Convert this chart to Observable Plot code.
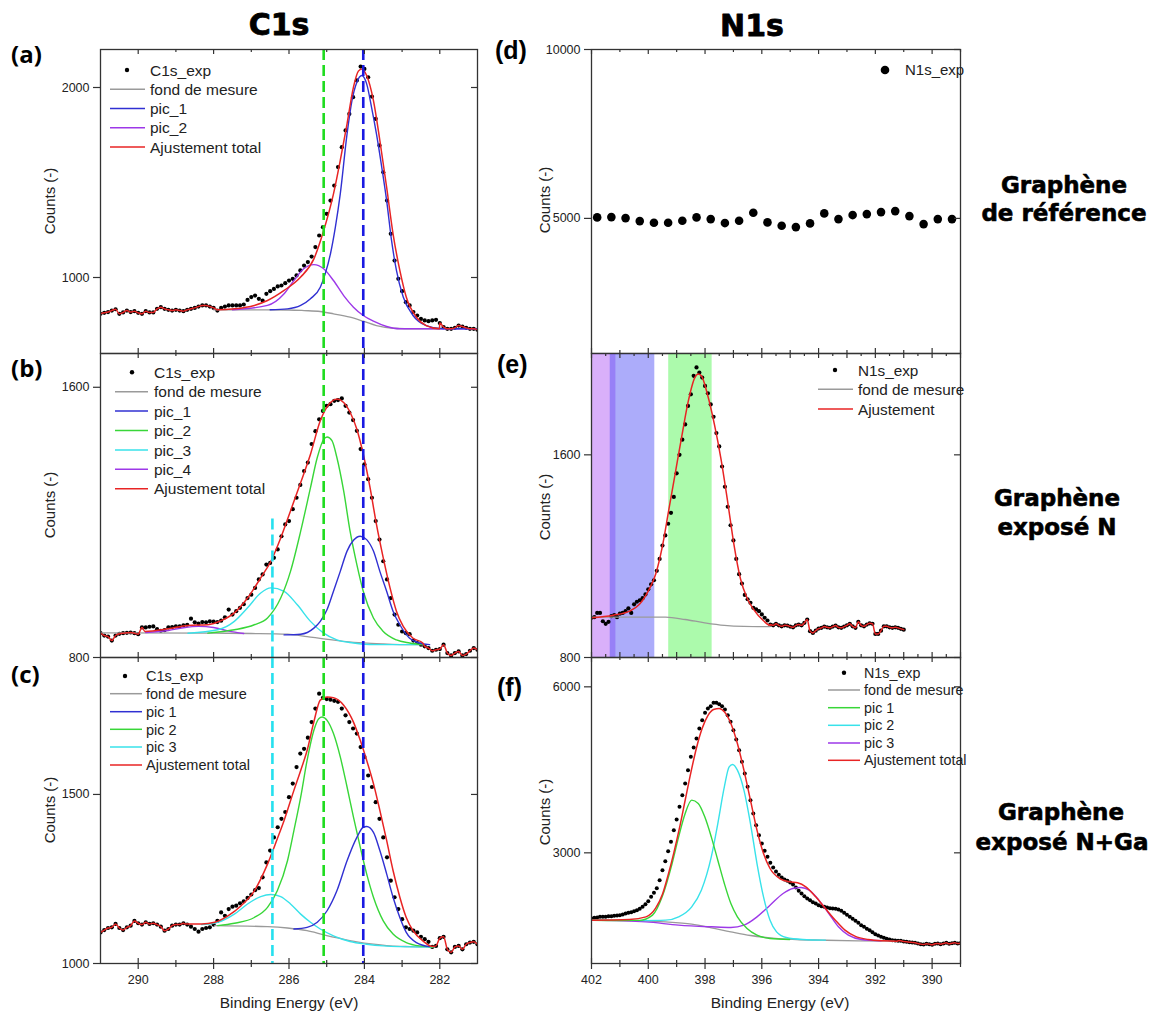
<!DOCTYPE html>
<html><head><meta charset="utf-8">
<script src="https://cdn.jsdelivr.net/npm/d3@7"></script>
<script src="https://cdn.jsdelivr.net/npm/@observablehq/plot@0.6"></script>
<style>
body{margin:0;background:#fff;}
#root{position:relative;width:1161px;height:1015px;overflow:hidden;background:#fff;font-family:"Liberation Sans",Arial,sans-serif;}
</style></head><body><div id="root"></div>
<script>
// ---------------- DATA ----------------
// C1s energy grids (eV) for experimental points
const c1sStart = 291.0, c1sStep = 0.1, c1sN = 101;
const n1sStart = 402.0, n1sStep = 0.1;
const dStart = 401.8, dStep = 0.5;

// (a) Graphène de référence, C1s
const aExp = [809,814,818,826,833,809,816,826,818,823,
 814,809,823,816,816,835,844,835,830,826,
 830,826,823,830,835,840,847,853,853,847,
 840,826,840,847,853,853,853,853,858,882,
 897,905,888,879,914,928,940,953,958,970,
 984,993,1011,1037,1063,1081,1110,1160,1221,1265,
 1335,1405,1484,1581,1686,1774,1861,1949,2037,2110,
 2098,2054,1952,1835,1695,1554,1405,1230,1089,993,
 928,870,853,818,800,782,774,770,774,777,
 760,739,730,730,735,747,742,735,730,730,
 725];
const aBgE = [288.0, 287.0, 286.0, 285.6, 285.17, 284.82, 284.38, 284.03, 283.68, 283.24, 282.62, 282.0];
const aBg  = [830, 830, 829, 826, 821, 809, 791, 770, 747, 733, 730, 730];
const aPic1E = [286.5, 286.04, 285.69, 285.43, 285.17, 285.04, 284.9, 284.77, 284.64, 284.46, 284.33, 284.2, 284.07, 283.94, 283.81, 283.68, 283.54, 283.41, 283.28, 283.15, 282.97, 282.71, 282.36, 281.92, 281.0];
const aPic1  = [830, 835, 853, 888, 949, 1019, 1125, 1265, 1440, 1756, 1931, 2028, 2063, 2019, 1896, 1756, 1581, 1405, 1195, 1037, 897, 800, 747, 730, 730];
const aPic2E = [287.5, 286.57, 286.13, 285.87, 285.61, 285.34, 285.08, 284.82, 284.55, 284.29, 284.03, 283.76, 283.41, 283.06, 281.0];
const aPic2  = [830, 853, 914, 984, 1046, 1068, 1046, 984, 905, 844, 800, 770, 742, 730, 730];
const aFitE = [287.9, 287.45, 286.92, 286.57, 286.13, 285.69, 285.34, 285.08, 284.82, 284.64, 284.46, 284.29, 284.16, 284.07, 283.94, 283.76, 283.59, 283.41, 283.24, 283.06, 282.89, 282.62, 282.36, 282.01];
const aFit  = [830, 835, 853, 879, 932, 1002, 1098, 1247, 1440, 1616, 1809, 2002, 2086, 2098, 2063, 1931, 1721, 1475, 1230, 1037, 897, 791, 747, 730];

// (b) Graphène exposé N, C1s
const bExp = [872,865,862,850,865,870,872,873,874,872,
 869,889,889,891,892,884,879,881,889,890,
 892,892,895,897,915,904,900,905,904,907,
 906,905,909,919,942,927,937,947,958,976,
 986,1006,1031,1046,1075,1080,1095,1120,1159,1194,
 1204,1239,1273,1311,1352,1377,1432,1470,1505,1530,
 1545,1550,1560,1562,1567,1545,1525,1503,1471,1417,
 1372,1328,1273,1204,1149,1085,1031,976,927,897,
 877,872,869,850,843,838,833,828,820,823,
 825,838,813,806,813,818,806,810,820,828,
 823];
const bBgE = [291.0, 288.0, 287.0, 286.04, 285.52, 285.08, 284.55, 284.03, 283.5, 282.97, 282.36];
const bBg  = [873, 872, 871, 869, 862, 855, 848, 843, 840, 838, 838];
const bPic1E = [286.13, 285.69, 285.34, 285.17, 284.99, 284.82, 284.64, 284.46, 284.29, 284.11, 283.94, 283.76, 283.59, 283.41, 283.24, 283.06, 282.80, 282.54, 282.27];
const bPic1  = [867, 869, 887, 907, 942, 996, 1055, 1115, 1147, 1159, 1149, 1115, 1055, 996, 937, 897, 857, 843, 838];
const bPic2E = [288.15, 287.45, 286.92, 286.57, 286.22, 285.96, 285.69, 285.43, 285.25, 285.08, 284.99, 284.86, 284.73, 284.55, 284.38, 284.20, 284.03, 283.76, 283.50, 283.15, 282.80, 282.45];
const bPic2  = [872, 882, 897, 917, 976, 1055, 1174, 1303, 1392, 1446, 1453, 1442, 1392, 1293, 1174, 1075, 996, 917, 877, 852, 843, 838];
const bPic3E = [288.68, 287.89, 287.45, 287.10, 286.75, 286.48, 286.13, 285.78, 285.43, 285.08, 284.73, 284.29, 283.76, 283.06, 282.54];
const bPic3  = [872, 882, 907, 947, 991, 1006, 996, 956, 907, 872, 852, 843, 838, 838, 838];
const bPic4E = [289.8, 289.2, 288.8, 288.4, 288.0, 287.6, 287.2];
const bPic4  = [874, 880, 888, 892, 889, 878, 871];
const bFitE = [289.82, 289.2, 288.68, 288.15, 287.8, 287.45, 287.1, 286.75, 286.48, 286.22, 285.96, 285.69, 285.43, 285.17, 284.9, 284.73, 284.55, 284.38, 284.2, 284.03, 283.85, 283.68, 283.5, 283.32, 283.15, 282.97, 282.71, 282.45];
const bFit  = [877, 885, 895, 897, 909, 932, 976, 1036, 1085, 1154, 1234, 1318, 1402, 1501, 1555, 1565, 1555, 1526, 1476, 1402, 1303, 1194, 1095, 1006, 937, 892, 857, 843];

// (c) Graphène exposé N+Ga, C1s
const cExp = [1092,1099,1105,1107,1117,1105,1099,1107,1112,1126,
 1119,1115,1122,1117,1119,1115,1109,1097,1102,1112,
 1115,1115,1119,1115,1109,1102,1094,1102,1105,1107,
 1115,1126,1151,1141,1161,1168,1171,1178,1184,1194,
 1204,1217,1223,1255,1299,1334,1373,1403,1428,1448,
 1492,1532,1581,1621,1635,1668,1714,1754,1798,1786,
 1782,1780,1777,1774,1754,1734,1714,1695,1680,1640,
 1611,1556,1522,1477,1428,1373,1314,1245,1196,1161,
 1131,1107,1102,1097,1092,1079,1072,1064,1049,1052,
 1075,1079,1042,1033,1049,1052,1042,1057,1062,1064,
 1057];
const cBgE = [287.97, 286.57, 286.04, 285.52, 285.08, 284.64, 284.20, 283.76, 283.32, 282.80, 282.18];
const cBg  = [1112, 1109, 1105, 1097, 1085, 1074, 1064, 1057, 1052, 1050, 1049];
const cPic1E = [285.87, 285.52, 285.25, 284.99, 284.73, 284.46, 284.20, 284.03, 283.94, 283.76, 283.59, 283.41, 283.24, 283.06, 282.89, 282.62, 282.27];
const cPic1  = [1102, 1107, 1122, 1156, 1215, 1304, 1373, 1403, 1405, 1388, 1334, 1265, 1196, 1136, 1092, 1062, 1050];
const cPic2E = [287.89, 287.45, 286.92, 286.57, 286.31, 286.04, 285.87, 285.69, 285.52, 285.34, 285.21, 285.12, 284.99, 284.82, 284.64, 284.46, 284.29, 284.11, 283.94, 283.76, 283.50, 283.24, 282.89, 282.54, 282.18];
const cPic2  = [1112, 1119, 1136, 1166, 1215, 1304, 1393, 1492, 1601, 1690, 1724, 1729, 1719, 1680, 1611, 1522, 1433, 1344, 1265, 1196, 1126, 1087, 1062, 1052, 1049];
const cPic3E = [288.32, 287.89, 287.45, 287.10, 286.75, 286.48, 286.22, 285.96, 285.69, 285.43, 285.17, 284.82, 284.38, 283.94, 283.50, 283.06, 282.18];
const cPic3  = [1115, 1122, 1146, 1176, 1198, 1204, 1198, 1176, 1146, 1122, 1102, 1082, 1065, 1057, 1052, 1050, 1049];
const cFitE = [288.76, 288.32, 287.97, 287.62, 287.27, 286.92, 286.57, 286.31, 286.13, 285.87, 285.69, 285.52, 285.34, 285.17, 284.99, 284.82, 284.55, 284.29, 284.11, 283.94, 283.76, 283.59, 283.41, 283.24, 283.06, 282.89, 282.71, 282.45, 282.18];
const cFit  = [1117, 1117, 1122, 1141, 1171, 1215, 1294, 1369, 1423, 1512, 1571, 1630, 1715, 1779, 1788, 1786, 1764, 1714, 1660, 1601, 1532, 1453, 1364, 1275, 1196, 1136, 1097, 1067, 1050];

// C1s reference peak positions (eV)
const c1sGreenLine = 285.08, c1sBlueLine = 284.03, c1sCyanLine = 286.44, c1sCyanTopB = 1210;

// (d) Graphène de référence, N1s
const dExp = [5030,5038,5009,4920,4870,4870,4929,5030,4979,4861,4929,5166,4881,4781,4742,4852,5148,4979,5098,5127,5186,5216,5068,4831,4979,4979];

// (e) Graphène exposé N, N1s
const eExp = [957,959,976,976,943,933,941,963,967,959,
 973,976,983,994,976,1010,1020,1026,1034,1049,
 1069,1089,1105,1142,1189,1242,1282,1328,1371,1434,
 1527,1600,1660,1720,1793,1839,1912,1945,1925,1905,
 1872,1843,1799,1750,1686,1633,1554,1474,1395,1322,
 1262,1189,1129,1092,1047,1030,1016,996,990,983,
 970,957,946,930,927,933,927,923,927,926,
 922,919,927,930,927,937,950,904,897,906,
 914,917,922,919,917,922,926,919,917,922,
 927,933,923,917,941,927,923,930,935,933,
 893,893,906,923,923,919,917,919,917,913,
 910];
const eBgE = [402.0, 400.66, 399.39, 398.70, 398.01, 397.32, 396.63, 395.71];
const eBg  = [959, 959, 959, 950, 937, 927, 923, 922];
const eFitE = [402.0, 401.23, 400.66, 400.31, 399.97, 399.74, 399.51, 399.28, 399.05, 398.82, 398.59, 398.36, 398.24, 398.13, 397.90, 397.67, 397.44, 397.21, 396.98, 396.75, 396.52, 396.29, 395.94, 395.71];
const eFit  = [957, 967, 983, 1010, 1069, 1129, 1235, 1381, 1527, 1673, 1812, 1905, 1919, 1912, 1832, 1720, 1585, 1420, 1245, 1110, 1035, 990, 945, 927];
const eBands = [
  {x1: 402.0, x2: 401.14, color: "rgb(170,80,245)"},
  {x1: 401.34, x2: 399.77, color: "rgb(70,70,245)"},
  {x1: 399.28, x2: 397.75, color: "rgb(70,245,70)"}
];

// (f) Graphène exposé N+Ga, N1s
const fExp = [1813,1825,1831,1843,1843,1843,1855,1855,1861,1867,
 1874,1886,1904,1916,1928,1946,1964,1988,2024,2072,
 2127,2205,2277,2361,2506,2687,2849,3030,3199,3410,
 3602,3831,4042,4253,4494,4735,4904,5066,5247,5398,
 5530,5608,5651,5711,5711,5687,5651,5590,5488,5367,
 5217,5048,4855,4645,4434,4193,3952,3711,3500,3319,
 3169,3036,2928,2819,2735,2663,2602,2554,2518,2494,
 2464,2428,2373,2313,2265,2217,2175,2145,2108,2084,
 2054,2036,2024,2012,2000,1994,1988,1976,1952,1916,
 1880,1843,1807,1771,1735,1693,1663,1627,1602,1566,
 1530,1506,1482,1464,1446,1434,1422,1416,1410,1410,
 1398,1392,1386,1380,1374,1362,1350,1344,1356,1350,
 1338,1356,1362,1350,1362,1374,1356,1368,1374,1362,
 1368];
const fBgE = [402.0, 400.08, 399.39, 398.47, 397.78, 397.09, 396.40, 395.71, 394.79, 393.87, 392.61, 391.34];
const fBg  = [1783, 1771, 1753, 1711, 1645, 1572, 1506, 1464, 1434, 1422, 1410, 1404];
const fPic1E = [402.0, 401.0, 400.31, 399.85, 399.51, 399.16, 398.93, 398.70, 398.47, 398.24, 398.01, 397.78, 397.55, 397.32, 397.09, 396.86, 396.52, 396.17, 395.71, 395.02];
const fPic1  = [1783, 1778, 1780, 1874, 2205, 2807, 3289, 3711, 3952, 3892, 3651, 3289, 2867, 2446, 2084, 1843, 1633, 1512, 1452, 1434];
const fPic2E = [400.3, 399.39, 398.93, 398.47, 398.13, 397.78, 397.55, 397.32, 397.15, 397.03, 396.86, 396.63, 396.40, 396.17, 395.94, 395.71, 395.48, 395.14, 394.56, 393.76];
const fPic2  = [1775, 1783, 1843, 2024, 2325, 2928, 3530, 4193, 4554, 4596, 4494, 4133, 3530, 2807, 2205, 1783, 1572, 1470, 1434, 1422];
const fPic3E = [402.0, 400.08, 398.93, 397.78, 397.09, 396.63, 396.17, 395.71, 395.25, 394.91, 394.62, 394.33, 393.99, 393.64, 393.30, 392.95, 392.49, 391.80];
const fPic3  = [1783, 1753, 1693, 1663, 1651, 1693, 1843, 2054, 2265, 2355, 2373, 2325, 2145, 1904, 1663, 1512, 1434, 1410];
const fFitE = [402.0, 400.66, 400.08, 399.74, 399.5, 399.3, 399.1, 398.9, 398.7, 398.5, 398.3, 398.1, 397.9, 397.7, 397.5, 397.32, 397.09, 396.86, 396.63, 396.40, 396.17, 395.94, 395.71, 395.37, 395.02, 394.74, 394.45, 394.10, 393.76, 393.41, 393.07, 392.72, 392.26, 391.69, 391.23];
const fFit  = [1783, 1795, 1843, 2000, 2250, 2600, 3000, 3450, 3950, 4450, 4900, 5250, 5480, 5590, 5610, 5548, 5337, 4976, 4494, 3952, 3410, 2988, 2717, 2536, 2476, 2458, 2386, 2205, 1994, 1783, 1602, 1494, 1434, 1410, 1404];

// Axis tick values
const c1sMajor = [290, 288, 286, 284, 282], c1sMinor = [289, 287, 285, 283];
const n1sMajor = [402, 400, 398, 396, 394, 392, 390], n1sMinor = [401, 399, 397, 395, 393, 391, 389];
const n1sMajorE = [402, 401, 400, 399, 398, 397, 396, 395, 394, 393, 392, 391, 390, 389];
const n1sMinorE = [401.5, 400.5, 399.5, 398.5, 397.5, 396.5, 395.5, 394.5, 393.5, 392.5, 391.5, 390.5, 389.5];

// ---------------- HELPERS ----------------
const FONT = '"Liberation Sans", Arial, sans-serif';
const COL = {exp: "#000", bg: "#9a9a9a", blue: "#3030d2", purple: "#9d38e8", green: "#38d638", cyan: "#38e2ea", red: "#e82424"};
const DASH = {green: "#1fdc1f", blue: "#1a1ae2", cyan: "#26e0ef"};
const root = document.getElementById("root");

const grid = (start, step, n) => d3.range(n).map(i => +(start - i * step).toFixed(2));
const pts = (E, V) => E.map((e, i) => ({E: e, v: V[i]}));
function total(expPts, fitPts) {
  const hi = fitPts[0].E, lo = fitPts[fitPts.length - 1].E;
  return [...expPts.filter(p => p.E > hi + 1e-6), ...fitPts, ...expPts.filter(p => p.E < lo - 1e-6)];
}
const line = (data, color, w = 1.4) => Plot.line(data, {x: "E", y: "v", stroke: color, strokeWidth: w, curve: "monotone-x", clip: true});
const dots = (data, r = 2.1) => Plot.dot(data, {x: "E", y: "v", r, fill: COL.exp, stroke: null, clip: true});
const vdash = (E, color, extra = {}) => Plot.ruleX([E], {x: d => d, stroke: color, strokeWidth: 2.6, strokeDasharray: "11,5", ...extra});

function makePanel(cfg) {
  const mT = 20, mB = 40;
  const fh = cfg.fh, fw = cfg.width - cfg.mL - cfg.mR;
  const tk = {stroke: "#333", strokeWidth: 1.2};
  const marks = [...cfg.marks, Plot.frame({stroke: "#333", strokeWidth: 1.3})];
  const xt = (vals, len) => [
    Plot.ruleX(vals, {x: d => d, insetBottom: fh - len, ...tk}),
    Plot.ruleX(vals, {x: d => d, insetTop: fh - len, insetBottom: cfg.bottom ? -len - 1 : 0, ...tk})
  ];
  marks.push(...xt(cfg.xMaj, 5), ...xt(cfg.xMin, 3));
  marks.push(Plot.ruleY(cfg.yTicks, {y: d => d, insetLeft: -7, insetRight: fw, ...tk}));
  marks.push(Plot.ruleY(cfg.yTicks, {y: d => d, insetLeft: fw - 6, ...tk}));
  marks.push(Plot.axisY(cfg.yTicks, {anchor: "left", tickSize: 0, tickPadding: 11, label: null, tickFormat: d => String(d), fontSize: 12.5, fill: "#222"}));
  if (cfg.bottom) marks.push(Plot.axisX(cfg.xLabels || cfg.xMaj, {anchor: "bottom", tickSize: 0, tickPadding: 12, label: null, tickFormat: d => String(d), fontSize: 12.5, fill: "#222"}));
  const svg = Plot.plot({
    width: cfg.width, height: fh + mT + mB,
    marginLeft: cfg.mL, marginRight: cfg.mR, marginTop: mT, marginBottom: mB,
    x: {domain: cfg.xDomain, ...(cfg.bottom ? {} : {axis: null})},
    y: {domain: cfg.yDomain},
    style: {background: "none", overflow: "visible", fontFamily: FONT, fontSize: "12.5px", color: "#222"},
    marks
  });
  const div = document.createElement("div");
  div.style.cssText = `position:absolute;left:${cfg.left}px;top:${cfg.frameTop - mT}px;width:${cfg.width}px;`;
  div.appendChild(svg);
  root.appendChild(div);
}

// ---------------- PANELS ----------------
const c1sE = grid(c1sStart, c1sStep, c1sN);
const L = {left: 0, width: 490, mL: 100, mR: 13, xDomain: [291, 281], xMaj: c1sMajor, xMin: c1sMinor};
const R = {left: 480, width: 500, mL: 111, mR: 20, xDomain: [402, 389]};

// (a)
{
  const exp = pts(c1sE, aExp);
  makePanel({...L, frameTop: 49, fh: 304, yDomain: [600, 2200], yTicks: [1000, 2000], marks: [
    dots(exp),
    line(pts(aBgE, aBg), COL.bg, 1.3),
    line(pts(aPic2E, aPic2), COL.purple),
    line(pts(aPic1E, aPic1), COL.blue),
    line(total(exp, pts(aFitE, aFit)), COL.red, 1.5),
    vdash(c1sGreenLine, DASH.green), vdash(c1sBlueLine, DASH.blue)
  ]});
}
// (b)
{
  const exp = pts(c1sE, bExp);
  makePanel({...L, frameTop: 353, fh: 304, yDomain: [800, 1700], yTicks: [800, 1600], marks: [
    dots(exp),
    line(pts(bBgE, bBg), COL.bg, 1.3),
    line(pts(bPic4E, bPic4), COL.purple),
    line(pts(bPic3E, bPic3), COL.cyan),
    line(pts(bPic2E, bPic2), COL.green),
    line(pts(bPic1E, bPic1), COL.blue),
    line(total(exp, pts(bFitE, bFit)), COL.red, 1.5),
    vdash(c1sGreenLine, DASH.green), vdash(c1sBlueLine, DASH.blue),
    Plot.ruleX([{E: c1sCyanLine, top: c1sCyanTopB}], {x: "E", y1: "top", y2: () => 800, stroke: DASH.cyan, strokeWidth: 2.6, strokeDasharray: "11,5"})
  ]});
}
// (c)
{
  const exp = pts(c1sE, cExp);
  makePanel({...L, frameTop: 657, fh: 306, yDomain: [1000, 1905], yTicks: [1000, 1500], bottom: true, marks: [
    dots(exp),
    line(pts(cBgE, cBg), COL.bg, 1.3),
    line(pts(cPic3E, cPic3), COL.cyan),
    line(pts(cPic2E, cPic2), COL.green),
    line(pts(cPic1E, cPic1), COL.blue),
    line(total(exp, pts(cFitE, cFit)), COL.red, 1.5),
    vdash(c1sGreenLine, DASH.green), vdash(c1sBlueLine, DASH.blue), vdash(c1sCyanLine, DASH.cyan)
  ]});
}
// (d)
{
  const exp = pts(grid(dStart, dStep, dExp.length), dExp);
  makePanel({...R, frameTop: 49, fh: 304, yDomain: [1000, 10000], yTicks: [5000, 10000], xMaj: n1sMajor, xMin: n1sMinor, marks: [
    dots(exp, 4.3)
  ]});
}
// (e)
{
  const exp = pts(grid(n1sStart, n1sStep, eExp.length), eExp);
  makePanel({...R, frameTop: 353, fh: 304, yDomain: [800, 2000], yTicks: [800, 1600], xMaj: n1sMajorE, xMin: n1sMinorE, marks: [
    ...eBands.map(b => Plot.rect([b], {x1: "x1", x2: "x2", fill: b.color, fillOpacity: 0.45})),
    dots(exp),
    line(pts(eBgE, eBg), COL.bg, 1.3),
    line(total(exp, pts(eFitE, eFit)), COL.red, 1.5)
  ]});
}
// (f)
{
  const exp = pts(grid(n1sStart, n1sStep, fExp.length), fExp);
  makePanel({...R, frameTop: 657, fh: 306, yDomain: [1000, 6530], yTicks: [3000, 6000], xMaj: n1sMajor, xMin: n1sMinor, bottom: true, marks: [
    dots(exp, 2.0),
    line(pts(fBgE, fBg), COL.bg, 1.3),
    line(pts(fPic3E, fPic3), COL.purple),
    line(pts(fPic2E, fPic2), COL.cyan),
    line(pts(fPic1E, fPic1), COL.green),
    line(total(exp, pts(fFitE, fFit)), COL.red, 1.5)
  ]});
}

// ---------------- ANNOTATIONS ----------------
const ov = d3.select(root).append("svg").attr("width", 1161).attr("height", 1015)
  .style("position", "absolute").style("left", "0").style("top", "0").style("pointer-events", "none")
  .attr("font-family", FONT).attr("fill", "#222");

function txt(x, y, s, o = {}) {
  const t = ov.append("text").attr("x", x).attr("y", y).text(s)
    .attr("text-anchor", o.anchor || "start").attr("font-size", o.size || 15)
    .attr("font-weight", o.weight || "normal").attr("font-family", o.family || FONT).attr("fill", o.fill || "#222");
  if (o.rotate) t.attr("transform", `rotate(-90 ${x} ${y})`);
  if (o.dy) t.attr("dy", o.dy);
  if (o.ls) t.attr("letter-spacing", o.ls);
  if (o.heavy) t.attr("stroke", o.fill || "#000").attr("stroke-width", o.heavy).attr("stroke-linejoin", "round");
  return t;
}
// titles
txt(279, 35, "C1s", {anchor: "middle", size: 30, weight: "bold", family: '"DejaVu Sans", sans-serif', fill: "#000", heavy: 0.8});
txt(752, 36, "N1s", {anchor: "middle", size: 30, weight: "bold", family: '"DejaVu Sans", sans-serif', fill: "#000", heavy: 0.8});
// panel letters
const OS = '"Open Sans", sans-serif', LB = '"Liberation Sans", Arial, sans-serif';
txt(11, 63, "(a)", {size: 24, weight: "bold", family: OS, fill: "#000"});
txt(11, 377, "(b)", {size: 24, weight: "bold", family: OS, fill: "#000"});
txt(11, 683, "(c)", {size: 24, weight: "bold", family: OS, fill: "#000"});
txt(495, 59, "(d)", {size: 25, weight: "bold", family: LB, fill: "#000"});
txt(497, 373, "(e)", {size: 25, weight: "bold", family: LB, fill: "#000"});
txt(497, 696, "(f)", {size: 25, weight: "bold", family: LB, fill: "#000"});
// row labels
const DJ = '"DejaVu Sans", sans-serif';
[[1064, 193, "Graphène"], [1064, 221, "de référence"], [1057, 506, "Graphène"], [1057, 535, "exposé N"],
 [1061, 820, "Graphène"], [1062, 850, "exposé N+Ga"]].forEach(([x, y, s]) =>
  txt(x, y, s, {anchor: "middle", size: 23, weight: "bold", family: DJ, fill: "#000", heavy: 0.6}));
// axis titles
[[50, 201], [50, 505], [50, 810], [545, 200], [545, 507], [545, 812]].forEach(([x, y]) =>
  txt(x, y, "Counts (-)", {anchor: "middle", size: 15, rotate: true, dy: "0.35em"}));
txt(289, 1008, "Binding Energy (eV)", {anchor: "middle", size: 15.5});
txt(780, 1008, "Binding Energy (eV)", {anchor: "middle", size: 15.5});

// legends
function legend(items, o) {
  items.forEach((it, i) => {
    const y = o.ys[i];
    if (it.dot) ov.append("circle").attr("cx", o.dotX).attr("cy", y).attr("r", o.r || 2.2).attr("fill", "#000");
    else ov.append("line").attr("x1", o.x0).attr("x2", o.x1).attr("y1", y).attr("y2", y).attr("stroke", it.color).attr("stroke-width", 1.5);
    txt(o.textX, y, it.label, {size: o.fs, dy: "0.36em"});
  });
}
const expItem = s => ({dot: true, label: s});
const bgItem = {color: COL.bg, label: "fond de mesure"};
const totItem = {color: COL.red, label: "Ajustement total"};
legend([expItem("C1s_exp"), bgItem, {color: COL.blue, label: "pic_1"}, {color: COL.purple, label: "pic_2"}, totItem],
  {x0: 110, x1: 145, dotX: 127, textX: 150, ys: [70, 89.3, 108.5, 127.8, 147], fs: 15.5});
legend([expItem("C1s_exp"), bgItem, {color: COL.blue, label: "pic_1"}, {color: COL.green, label: "pic_2"}, {color: COL.cyan, label: "pic_3"}, {color: COL.purple, label: "pic_4"}, totItem],
  {x0: 115, x1: 148, dotX: 132, textX: 154, ys: [372.3, 391.7, 411, 430.5, 450, 469.3, 488.7], fs: 15.5});
legend([expItem("C1s_exp"), bgItem, {color: COL.blue, label: "pic 1"}, {color: COL.green, label: "pic 2"}, {color: COL.cyan, label: "pic 3"}, totItem],
  {x0: 110, x1: 142, dotX: 125, textX: 146, ys: [676, 693.7, 711.7, 729.3, 747, 765], fs: 14.5});
legend([expItem("N1s_exp")], {dotX: 885, textX: 905, ys: [70], fs: 15, r: 4.3});
legend([expItem("N1s_exp"), bgItem, {color: COL.red, label: "Ajustement"}],
  {x0: 818, x1: 853, dotX: 835, textX: 858, ys: [370, 389.3, 409], fs: 15.3});
legend([expItem("N1s_exp"), bgItem, {color: COL.green, label: "pic 1"}, {color: COL.cyan, label: "pic 2"}, {color: COL.purple, label: "pic 3"}, totItem],
  {x0: 828, x1: 860, dotX: 844, textX: 864, ys: [672.7, 690, 707.7, 725.3, 743, 760.3], fs: 14.3});
</script></body></html>
